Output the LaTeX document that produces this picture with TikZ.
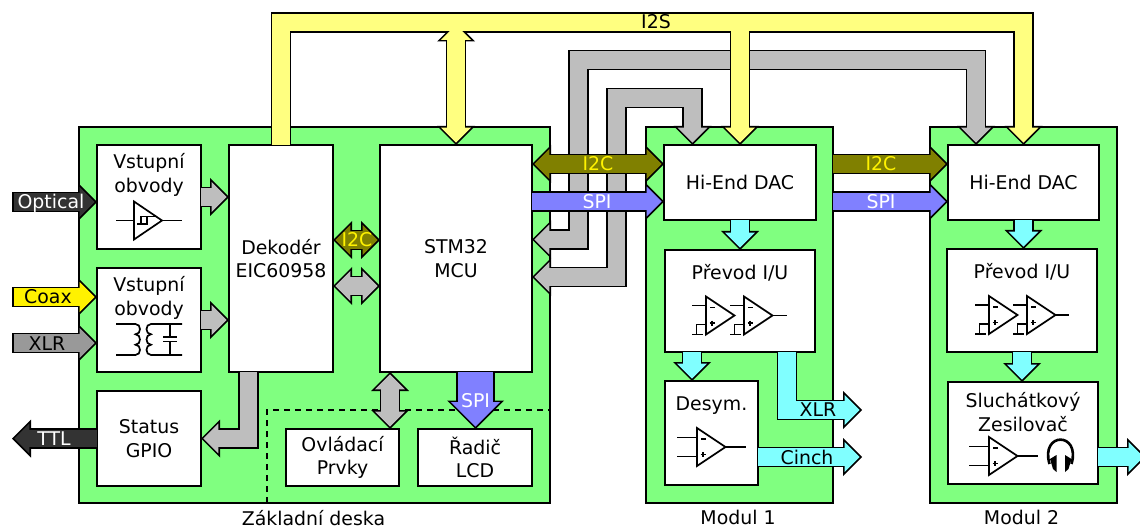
\documentclass[tikz,border=0pt]{standalone}
\usepackage{fontspec}
\setmainfont{DejaVu Sans}
\usetikzlibrary{arrows.meta,positioning}

\definecolor{boardgreen}{HTML}{80FF80}
\definecolor{busyellow}{HTML}{FFFF80}
\definecolor{busgrey}{HTML}{BEBEBE}
\definecolor{busolive}{HTML}{808000}
\definecolor{busblue}{HTML}{8080FF}
\definecolor{buscyan}{HTML}{80FFFF}
\definecolor{busdark}{HTML}{333333}
\definecolor{busxlr}{HTML}{999999}

\tikzset{
	every node/.style={font=\fontsize{18.9}{23.8}\selectfont, align=center, inner sep=0pt, outer sep=0pt},
	board/.style={draw, fill=boardgreen, line width=1.7pt, anchor=north west, minimum width=#1, minimum height=376pt},
	block/.style={draw, fill=white, line width=1.7pt},
	sym/.style={line width=1.7pt, line join=miter},
	% the same three path styles get redefined for the black and the coloured pass
	busout/.style={
		busr/.style={->}, busb/.style={<->}, busf/.style={->}},
	busin/.style={
		busr/.style={->, shorten >=2.4pt},
		busb/.style={<->, shorten >=2.4pt, shorten <=2.4pt},
		busf/.style={->, shorten >=2.4pt, shorten <=1.7pt}},
	opcore/.pic={
		\draw[sym] (0,-19) -- (0,19) -- (28.5,0) -- cycle;
		\draw[sym] (4,-8) -- (8.5,-8) (3.5,7.5) -- (8.5,7.5) (6,5) -- (6,10);
	},
	opin/.pic={
		\draw[sym] (0,-9.5) -- (-20,-9.5) (0,9.5) -- (-20,9.5) (28.5,0) -- (48.5,0);
		\pic at (0,0) {opcore};
	},
	opgnd/.pic={
		\draw[sym] (0,-10) -- (-14,-10) (0,9) -- (-9.5,9) -- (-9.5,19) (-14,19) -- (-3.5,19);
		\pic at (0,0) {opcore};
	}
}

% shaft width, head width, colour, paths
\newcommand{\drawbus}[4]{
	\pgfmathsetmacro{\busouterw}{#1+1.7}
	\pgfmathsetmacro{\businnerw}{#1-1.7}
	\pgfmathsetmacro{\busheadl}{#2/2}
	\pgfmathsetmacro{\businnerl}{#2/2-4.1}
	\pgfmathsetmacro{\businnerh}{#2-8.2}
	\begin{scope}[busout, black, line width=\busouterw pt,
		>={Triangle[length=\busheadl pt, width=#2pt, line width=0pt]}]
		#4
	\end{scope}
	\begin{scope}[busin, color=#3, line width=\businnerw pt,
		>={Triangle[length=\businnerl pt, width=\businnerh pt, line width=0pt]}]
		#4
	\end{scope}
}
\newcommand{\fatbus}[2]{\drawbus{19}{38}{#1}{#2}}

\begin{document}
\begin{tikzpicture}[x=1pt,y=-1pt]
		\useasboundingbox (0,0) rectangle (1140,529);
		
		%boards
		\node[board=471pt] (base) at (79,127) {};
		\node[board=187pt] (mod1) at (646,127) {};
		\node[board=187pt] (mod2) at (930,127) {};
		
		%dashed part of the base board
		\coordinate (dsh) at (267,410);
		\draw[line width=1.7pt, dash pattern=on 6pt off 5pt] (dsh |- base.south) -- (dsh) -- (dsh -| base.east);
		
		%vst1
		\node[block, anchor=north west, minimum width=104pt, minimum height=104pt] (vst1) at (97,145) {};
		%vst2
		\node[block, below=19pt of vst1, minimum width=104pt, minimum height=104pt] (vst2) {};
		%status
		\node[block, below=19pt of vst2, minimum width=104pt, minimum height=95pt] (status) {Status\\GPIO};
		%dec
		\node[block, right=28pt of vst1.north east, anchor=north west, minimum width=104pt, minimum height=227pt] (dec) {Dekodér\\EIC60958};
		%mcu
		\node[block, right=47pt of dec.north east, anchor=north west, minimum width=152pt, minimum height=227pt] (mcu) {STM32\\MCU};
		%ovl
		\node[block, anchor=north west, minimum width=113pt, minimum height=57pt] (ovl) at (286,429) {Ovládací\\Prvky};
		%rad
		\node[block, right=19pt of ovl, minimum width=114pt, minimum height=57pt] (rad) {Řadič\\LCD};
		%dac1
		\node[block, anchor=north west, minimum width=152pt, minimum height=75pt] (dac1) at (664,145) {Hi-End DAC};
		%pre1
		\node[block, anchor=north west, minimum width=150pt, minimum height=102pt] (pre1) at (665,250) {};
		%des
		\node[block, anchor=north west, minimum width=93pt, minimum height=104pt] (des) at (665,381) {};
		%dac2
		\node[block, anchor=north west, minimum width=151pt, minimum height=75pt] (dac2) at (948,145) {Hi-End DAC};
		%pre2
		\node[block, anchor=north west, minimum width=150pt, minimum height=103pt] (pre2) at (947,249) {};
		%slu
		\node[block, anchor=north west, minimum width=150pt, minimum height=102pt] (slu) at (948,382) {};
		
		%texts at the top of the blocks
		\node[below=8.5pt of vst1.north] (vst1txt) {Vstupní\\obvody};
		\node[below=8.5pt of vst2.north] (vst2txt) {Vstupní\\obvody};
		\node[below=14pt of pre1.north] (pre1txt) {Převod I/U};
		\node[below=15.5pt of des.north] (destxt) {Desym.};
		\node[below=14pt of pre2.north] (pre2txt) {Převod I/U};
		\node[below=10.5pt of slu.north] (slutxt) {Sluchátkový\\Zesilovač};
		
		%board names
		\node[below=7.5pt of base.south, xshift=-1pt] (basetxt) {Základní deska};
		\node[below=7.5pt of mod1.south, xshift=-1.5pt] (mod1txt) {Modul 1};
		\node[below=7.5pt of mod2.south, xshift=-2pt] (mod2txt) {Modul 2};
		
		%bus heights and free ends
		\coordinate (i2sy) at (0,22.5);
		\coordinate (gra1) at (578.5,60);
		\coordinate (gra2) at (616.5,98);
		\coordinate (gra1e) at (0,239.5);
		\coordinate (gra2e) at (0,277);
		\coordinate (i2cy) at (0,164);
		\coordinate (spiy) at (0,201.5);
		\coordinate (optin) at (12,202);
		\coordinate (coaxin) at (12,297);
		\coordinate (xlrin) at (12,343);
		\coordinate (ttlout) at (12,438.5);
		\coordinate (xlrout) at (787,410);
		\coordinate (cinout) at (862,457);
		\coordinate (hpout) at (1146,457);
		\coordinate (desx) at (692,0);
		\coordinate (gpx) at (248.5,0);
		\coordinate (ctlx) at (390,0);
		\coordinate (lcdx) at (475.5,0);
		
		%grey buses
		\fatbus{busgrey}{
			\draw[busb] (mcu.east |- gra1e) -- (gra1 |- gra1e) -- (gra1) -| (dac2.north -| 976,0);
			\draw[busb] (mcu.east |- gra2e) -- (gra2 |- gra2e) -- (gra2) -| (dac1.north -| 692.5,0);
		}
		
		%I2S
		\fatbus{busyellow}{
			\draw[busr] (dec.north) -- (dec.north |- i2sy) -| (dac2.north);
			\draw[busr] (dac1.north |- i2sy) -- (dac1.north);
			\draw[busb] (mcu.north |- i2sy) -- (mcu.north);
		}
		\node (i2stxt) at (656,22) {I2S};
		
		%I2C and SPI
		\fatbus{busolive}{\draw[busb] (mcu.east |- i2cy) -- (dac1.west |- i2cy);}
		\fatbus{busblue}{\draw[busr] (mcu.east |- spiy) -- (dac1.west |- spiy);}
		\fatbus{busolive}{\draw[busr] (mod1.east |- i2cy) -- (dac2.west |- i2cy);}
		\fatbus{busblue}{\draw[busr] (mod1.east |- spiy) -- (dac2.west |- spiy);}
		\node[text=yellow] (i2ctxt1) at (598,164) {I2C};
		\node[text=white] (spitxt1) at (597,202) {SPI};
		\node[text=yellow] (i2ctxt2) at (881,164) {I2C};
		\node[text=white] (spitxt2) at (881,202) {SPI};
		
		%inputs
		\fatbus{busdark}{\draw[busf] (optin) -- (optin -| vst1.west);}
		\fatbus{yellow}{\draw[busf] (coaxin) -- (coaxin -| vst2.west);}
		\fatbus{busxlr}{\draw[busf] (xlrin) -- (xlrin -| vst2.west);}
		\fatbus{busdark}{\draw[busr] (status.west) -- (status.west -| ttlout);}
		\node[text=white] (opttxt) at (51,203) {Optical};
		\node (coaxtxt) at (48,297) {Coax};
		\node (xlrtxt) at (47,344) {XLR};
		\node[text=white] (ttltxt) at (54,439) {TTL};
		
		%base board
		\fatbus{busgrey}{
			\draw[busr] (vst1.east) -- (vst1.east -| dec.west);
			\draw[busr] (vst2.east) -- (vst2.east -| dec.west);
			\draw[busr] (gpx |- dec.south) |- (status.east);
			\draw[busb] (dec.east |- 0,286) -- (mcu.west |- 0,286);
			\draw[busb] (ctlx |- mcu.south) -- (ctlx |- ovl.north);
		}
		\fatbus{busolive}{\draw[busb] (dec.east |- 0,240) -- (mcu.west |- 0,240);}
		\drawbus{37}{57}{busblue}{\draw[busr] (lcdx |- mcu.south) -- (lcdx |- rad.north);}
		\node[text=yellow] (i2ctxt3) at (357,240) {I2C};
		\node[text=white] (spitxt3) at (475.5,401) {SPI};
		
		%modules
		\fatbus{buscyan}{
			\draw[busr] (dac1.south) -- (dac1.south |- pre1.north);
			\draw[busr] (desx |- pre1.south) -- (desx |- des.north);
			\draw[busr] (xlrout |- pre1.south) |- (cinout |- xlrout);
			\draw[busr] (des.east |- cinout) -- (cinout);
			\draw[busr] (dac2.south) -- (dac2.south |- pre2.north);
			\draw[busr] (pre2.south) -- (pre2.south |- slu.north);
			\draw[busr] (slu.east |- hpout) -- (hpout);
		}
		\node (xlrtxt2) at (818,410) {XLR};
		\node (cintxt) at (807,457) {Cinch};
		
		%comparator
		\draw[sym] (134,201.5) -- (134,239.5) -- (162,220.5) -- cycle;
		\draw[sym] (116,220.5) -- (134,220.5) (162,220.5) -- (182,220.5);
		\draw[line width=1.4pt] (137,224) -- (147,224) -- (147,216.5) -- (155,216.5) (141,224) -- (141,216.5) -- (147,216.5);
		
		%transformer and capacitor
		\draw[sym] (116,324) -- (135.5,324) .. controls (141.5,324) and (141.5,334.3) .. (135.5,334.3)
			.. controls (141.5,334.3) and (141.5,344.7) .. (135.5,344.7)
			.. controls (141.5,344.7) and (141.5,355) .. (135.5,355) -- (116,355);
		\draw[sym] (182,324) -- (151,324) .. controls (145,324) and (145,334.3) .. (151,334.3)
			.. controls (145,334.3) and (145,344.7) .. (151,344.7)
			.. controls (145,344.7) and (145,355) .. (151,355) -- (182,355);
		\draw[sym] (170,324) -- (170,337.3) (163,337.3) -- (176.5,337.3) (163,341.5) -- (176.5,341.5) (170,341.5) -- (170,355);
		
		%opamps
		\pic at (706,315.5) {opgnd};
		\pic at (744,315.5) {opgnd};
		\draw[sym] (772.5,315.5) -- (787,315.5);
		\pic at (697,447) {opin};
		\pic at (989,315) {opgnd};
		\pic at (1027,315) {opgnd};
		\draw[sym] (1055.5,315) -- (1069,315);
		\pic at (989,456) {opin};
		
		%headphones
		\draw[line width=2.6pt] (1049.5,464) .. controls (1040,431.5) and (1081,431.5) .. (1071.5,464);
		\fill (1056.5,455) -- (1056.5,472) -- (1053,469) -- (1050,459) -- cycle;
		\fill (1065,455) -- (1065,472) -- (1068.5,469) -- (1071.5,459) -- cycle;
		
		\end{tikzpicture}
\end{document}
